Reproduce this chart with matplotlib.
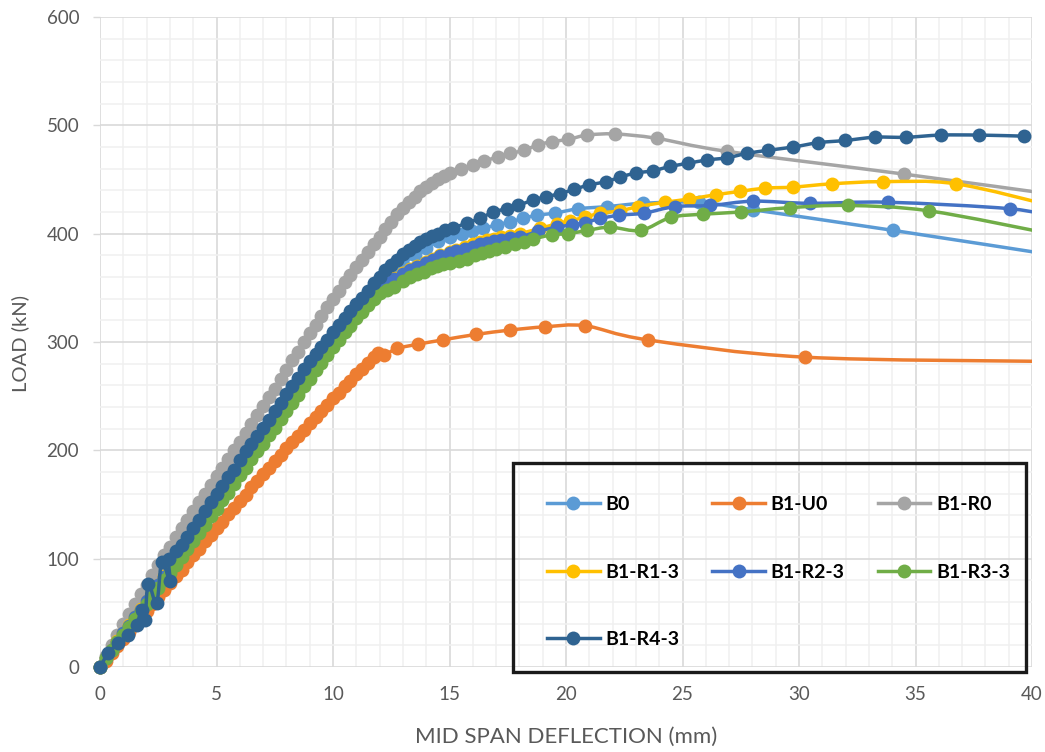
import numpy as np
import matplotlib
matplotlib.use("Agg")
import matplotlib.pyplot as plt
from matplotlib.path import Path
from matplotlib.patches import PathPatch, Rectangle
from matplotlib.lines import Line2D
from matplotlib.ticker import MultipleLocator

plt.rcParams['font.family'] = ['Lato', 'DejaVu Sans']

# ---------------- data ----------------
labels = ["B0", "B1-U0", "B1-R0", "B1-R1-3", "B1-R2-3", "B1-R3-3", "B1-R4-3"]
colors = ["#5B9BD5", "#ED7D31", "#A5A5A5", "#FFC000", "#4472C4", "#70AD47", "#2F6391"]

b0_x = [0, 0.5, 1, 1.5, 2, 2.5, 3, 3.5, 4, 4.5, 5, 5.5, 6, 6.5, 7, 7.5, 8, 8.5, 9, 9.5,
        10, 10.5, 11, 11.5, 12, 12.5, 13, 13.5, 14, 14.5, 15, 15.52, 15.95, 16.45, 17.03,
        17.6, 18.17, 18.74, 19.53, 20.53, 21.77, 23.32, 25.7, 28.04, 34.05, 41]
b0_y = [0, 15, 29, 43, 57, 72, 87, 102, 118, 134, 150, 166, 182, 198, 214, 229, 245, 260, 275, 289,
        302, 315, 327, 339, 350, 361, 371, 380, 387, 393, 397, 400, 402, 405, 408,
        411, 414, 417, 419, 423, 425, 428, 429, 422, 403, 380]

u0_x = [0, 0.25, 0.5, 0.75, 1, 1.25, 1.5, 1.75, 2, 2.25, 2.5, 2.75, 3, 3.25, 3.5, 3.75,
        4, 4.25, 4.5, 4.75, 5, 5.25, 5.5, 5.75, 6, 6.25, 6.5, 6.75, 7, 7.25, 7.5, 7.75,
        8, 8.25, 8.5, 8.75, 9, 9.25, 9.5, 9.75, 10, 10.25, 10.5, 10.75, 11, 11.25, 11.5,
        11.75, 11.95, 12.2, 12.75, 13.66, 14.73, 16.14, 17.6, 19.1, 20.82, 23.5, 30.26, 41]
u0_y = [0, 6, 13, 19, 26, 32, 39, 45, 52, 58, 65, 71, 78, 84, 90, 97,
        103, 109, 116, 122, 128, 134, 141, 147, 153, 159, 166, 172, 178, 184, 190, 196,
        202, 208, 213, 219, 225, 231, 236, 242, 248, 253, 259, 264, 270, 275, 281,
        286, 290, 288, 294, 298, 302, 307, 311, 314, 315, 302, 286, 282]

r0_x = [0, 0.25, 0.5, 0.75, 1, 1.25, 1.5, 1.75, 2, 2.25, 2.5, 2.75, 3, 3.25, 3.5, 3.75,
        4, 4.25, 4.5, 4.75, 5, 5.25, 5.5, 5.75, 6, 6.25, 6.5, 6.75, 7, 7.25, 7.5, 7.75,
        8, 8.25, 8.5, 8.75, 9, 9.25, 9.5, 9.75, 10, 10.25, 10.5, 10.75, 11, 11.25, 11.5,
        11.75, 12, 12.25, 12.5, 12.75, 13, 13.25, 13.5, 13.75, 14, 14.25, 14.5, 14.75, 15,
        15.5, 16, 16.5, 17.1, 17.6, 18.2, 18.8, 19.4, 20.1, 20.9, 22.1, 23.9, 26.9, 34.5, 41]
r0_y = [0, 10, 20, 30, 40, 49, 58, 67, 76, 85, 94, 103, 111, 120, 128, 136,
        144, 152, 160, 168, 176, 184, 192, 200, 208, 216, 224, 233, 241, 249, 257, 266,
        274, 283, 291, 300, 308, 316, 324, 332, 340, 347, 355, 362, 369, 376, 383,
        390, 397, 404, 411, 418, 424, 429, 434, 439, 443, 447, 450, 453, 456,
        460, 463, 467, 471, 474, 477, 482, 485, 487, 491, 492, 488, 476, 455, 436]

r13_x = [0, 0.25, 0.5, 0.75, 1, 1.25, 1.5, 1.75, 2, 2.25, 2.5, 2.75, 3, 3.25, 3.5, 3.75,
         4, 4.25, 4.5, 4.75, 5, 5.25, 5.5, 5.75, 6, 6.25, 6.5, 6.75, 7, 7.25, 7.5, 7.75,
         8, 8.25, 8.5, 8.75, 9, 9.25, 9.5, 9.75, 10, 10.25, 10.5, 10.75, 11, 11.25, 11.5,
         11.75, 12, 12.3, 12.6, 13, 13.3, 13.6, 14, 14.3, 14.6, 15, 15.3, 15.65, 16, 16.3,
         16.6, 16.9, 17.2, 17.6, 18.03, 18.9, 19.6, 20.17, 20.8, 21.46, 22.3, 23.1, 24.25,
         25.3, 26.44, 27.47, 28.54, 29.76, 31.4, 33.6, 36.74, 41]
r13_y = [0, 8, 16, 24, 31, 39, 46, 54, 61, 69, 76, 84, 91, 99, 106, 114,
         121, 129, 136, 144, 151, 159, 166, 174, 181, 189, 196, 204, 211, 219, 226, 234,
         241, 249, 256, 264, 271, 278, 285, 292, 299, 306, 313, 320, 326, 333, 339,
         345, 350, 355, 359, 364, 367, 370, 374, 377, 380, 383, 385, 388, 390, 392,
         394, 395, 397, 398, 400, 405, 409, 412, 415, 419, 421, 425, 429,
         432, 436, 439, 442, 443, 446, 448, 446, 425]

r23_x = [0, 0.25, 0.5, 0.75, 1, 1.25, 1.5, 1.75, 2, 2.25, 2.5, 2.75, 3, 3.25, 3.5, 3.75,
         4, 4.25, 4.5, 4.75, 5, 5.25, 5.5, 5.75, 6, 6.25, 6.5, 6.75, 7, 7.25, 7.5, 7.75,
         8, 8.25, 8.5, 8.75, 9, 9.25, 9.5, 9.75, 10, 10.25, 10.5, 10.75, 11, 11.25, 11.5,
         11.75, 12, 12.3, 12.6, 13, 13.3, 13.6, 14, 14.3, 14.6, 15, 15.3, 15.65, 16, 16.3,
         16.6, 16.9, 17.2, 17.6, 18.03, 18.8, 19.6, 20.24, 20.8, 21.46, 22.28, 23.35, 24.68,
         26.2, 28.04, 30.47, 33.83, 39.06, 41]
r23_y = [0, 8, 16, 23, 31, 38, 46, 53, 61, 68, 76, 83, 91, 98, 106, 113,
         121, 128, 136, 143, 151, 158, 166, 173, 181, 188, 196, 203, 211, 218, 226, 233,
         241, 248, 255, 263, 270, 277, 284, 291, 298, 305, 312, 319, 325, 332, 338,
         344, 349, 354, 358, 363, 366, 369, 373, 376, 379, 382, 384, 386, 388, 390,
         391, 393, 394, 396, 397, 402, 406, 408, 410, 414, 417, 419, 425,
         426, 430, 428, 429, 423, 415]

r33_x = [0, 0.25, 0.5, 0.75, 1, 1.25, 1.5, 1.75, 2, 2.25, 2.5, 2.75, 3, 3.25, 3.5, 3.75,
         4, 4.25, 4.5, 4.75, 5, 5.25, 5.5, 5.75, 6, 6.25, 6.5, 6.75, 7, 7.25, 7.5, 7.75,
         8, 8.25, 8.5, 8.75, 9, 9.25, 9.5, 9.75, 10, 10.25, 10.5, 10.75, 11, 11.25, 11.5,
         11.75, 12, 12.3, 12.6, 13, 13.3, 13.6, 13.9, 14.2, 14.45, 14.7, 15, 15.4, 15.74,
         16.1, 16.4, 16.7, 17, 17.4, 17.8, 18.2, 18.6, 19.4, 20.1, 20.9, 21.9, 23.2, 24.5,
         25.9, 27.5, 29.6, 32.1, 35.6, 41]
r33_y = [0, 8, 16, 23, 30, 37, 44, 51, 58, 65, 73, 80, 87, 94, 102, 109,
         116, 124, 131, 139, 146, 154, 161, 169, 177, 184, 192, 199, 206, 214, 221, 229,
         236, 244, 251, 259, 266, 274, 281, 288, 295, 302, 309, 315, 322, 328, 334,
         340, 345, 348, 351, 356, 360, 363, 365, 368, 370, 372, 373, 375, 377,
         380, 382, 384, 386, 388, 390, 392, 395, 399, 400, 403, 406, 403, 415,
         418, 420, 424, 426, 421, 399]

r43_x = [0, 0.36, 0.79, 1.22, 1.57, 1.79, 1.93, 2.07, 2.43, 2.65, 3.0, 2.95, 3.25, 3.5,
         3.75, 4, 4.25, 4.5, 4.75, 5, 5.25, 5.5, 5.75, 6, 6.25, 6.5, 6.75, 7, 7.25, 7.5,
         7.75, 8, 8.25, 8.5, 8.75, 9, 9.25, 9.5, 9.75, 10, 10.25, 10.5, 10.75, 11, 11.25,
         11.5, 11.75, 12, 12.25, 12.5, 12.75, 13, 13.25, 13.5, 13.75, 14, 14.25, 14.5, 14.8,
         15.16, 15.74, 16.3, 16.88, 17.45, 17.95, 18.57, 19.14, 19.74, 20.36, 21.0, 21.72,
         22.3, 23.0, 23.72, 24.46, 25.25, 26.04, 26.9, 27.75, 28.68, 29.76, 30.83, 31.97,
         33.26, 34.6, 36.08, 37.74, 39.66]
r43_y = [0, 13, 22, 30, 39, 53, 43, 77, 59, 97, 79, 100, 107, 113,
         120, 128, 136, 144, 152, 160, 167, 175, 182, 191, 199, 206, 213, 221, 228, 236,
         244, 252, 259, 267, 275, 282, 289, 295, 302, 309, 316, 322, 329, 335, 341,
         347, 354, 360, 366, 371, 376, 381, 385, 389, 392, 395, 398, 400, 403,
         405, 410, 414, 420, 423, 426, 431, 434, 437, 441, 445, 448,
         452, 456, 458, 462, 465, 468, 470, 474, 477, 480, 484, 486,
         489, 489, 491, 491, 490]

series = [(b0_x, b0_y), (u0_x, u0_y), (r0_x, r0_y), (r13_x, r13_y),
          (r23_x, r23_y), (r33_x, r33_y), (r43_x, r43_y)]

x_ticks = [0, 5, 10, 15, 20, 25, 30, 35, 40]
y_ticks = [0, 100, 200, 300, 400, 500, 600]


def smooth_path(x, y):
    """Smoothed (Excel-like) Bezier path through the data points."""
    pts = np.column_stack([np.asarray(x, float), np.asarray(y, float)])
    n = len(pts)
    verts = [pts[0]]
    codes = [Path.MOVETO]
    for i in range(n - 1):
        p0 = pts[i - 1] if i > 0 else pts[i]
        p1 = pts[i]
        p2 = pts[i + 1]
        p3 = pts[i + 2] if i + 2 < n else pts[i + 1]
        c1 = p1 + (p2 - p0) / 6.0
        c2 = p2 - (p3 - p1) / 6.0
        verts += [c1, c2, p2]
        codes += [Path.CURVE4] * 3
    return Path(verts, codes)


fig = plt.figure(figsize=(10.45, 7.52), dpi=100)
ax = fig.add_axes([100 / 1045, 85 / 752, 932 / 1045, 650 / 752])
ax.set_xlim(0, 40)
ax.set_ylim(0, 600)

LW = 2.5
MS = 10
for k, ((xs, ys), col) in enumerate(zip(series, colors)):
    z = 3 + 2 * k
    ax.add_patch(PathPatch(smooth_path(xs, ys), facecolor='none', edgecolor=col,
                           lw=LW, zorder=z, joinstyle='round', capstyle='round'))
    xa = np.asarray(xs, float)
    ya = np.asarray(ys, float)
    m = xa <= 40
    ax.plot(xa[m], ya[m], 'o', color=col, ms=MS, mew=0, zorder=z + 1, clip_on=False)

# grid / axes
ax.set_xticks(x_ticks)
ax.set_yticks(y_ticks)
ax.xaxis.set_minor_locator(MultipleLocator(1))
ax.yaxis.set_minor_locator(MultipleLocator(20))
ax.grid(which='major', color='#D9D9D9', lw=1.2)
ax.grid(which='minor', color='#F0F0F0', lw=1.1)
ax.set_axisbelow(True)
for s in ax.spines.values():
    s.set_visible(False)
ax.tick_params(axis='y', which='major', length=5, width=1, color='#D9D9D9',
               labelsize=13.5, labelcolor='#595959', pad=10)
ax.tick_params(axis='x', which='major', length=0, labelsize=13.5,
               labelcolor='#595959', pad=14)
ax.tick_params(which='minor', length=0)

fig.text(566 / 1045, 1 - 737 / 752, 'MID SPAN DEFLECTION (mm)', ha='center', va='center',
         fontsize=16, color='#595959')
fig.text(20 / 1045, 1 - 344 / 752, 'LOAD (kN)', ha='center', va='center',
         rotation=90, fontsize=14.5, color='#595959')

# legend (column-major order so that rows read B0, B1-U0, B1-R0 / ...)
order = [0, 3, 6, 1, 4, 2, 5]
handles = [Line2D([], [], color=colors[i], lw=LW, marker='o', ms=MS, mew=0) for i in order]
leg = ax.legend(handles, [labels[i] for i in order], ncol=3, loc='center left',
                bbox_to_anchor=((547 - 100) / 932, (667 - 572) / 650),
                frameon=False, prop={'weight': 'bold', 'size': 14},
                handlelength=2.7, handletextpad=0.3, columnspacing=1.7,
                labelspacing=2.6, borderpad=0, borderaxespad=0)
leg.set_zorder(30)
ax.add_patch(Rectangle(((512.7 - 100) / 932, -5 / 650), (1026 - 512.7) / 932, (672 - 463) / 650,
                       transform=ax.transAxes, fill=False, edgecolor='#1A1A1A', lw=2.4,
                       clip_on=False, zorder=31))

fig.savefig('out.png', dpi=100)
